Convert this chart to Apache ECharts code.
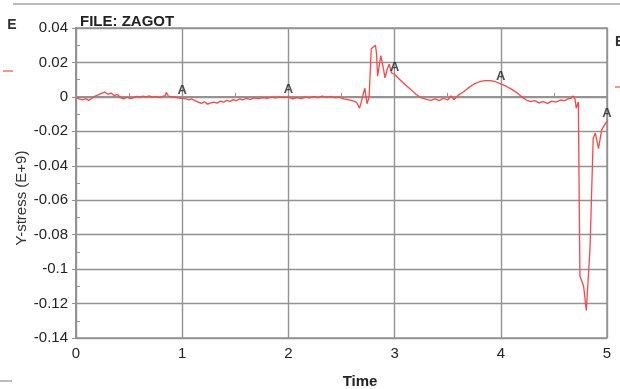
<!DOCTYPE html>
<html>
<head>
<meta charset="utf-8">
<script src="https://cdn.jsdelivr.net/npm/echarts@6/dist/echarts.min.js"></script>
<style>html,body{margin:0;padding:0;background:#fff}#c{width:620px;height:389px}</style>
</head>
<body>
<div id="c"></div>
<script>
const times = [0.00,0.03,0.06,0.09,0.12,0.15,0.18,0.21,0.24,0.27,0.30,0.33,0.36,0.39,0.42,0.45,0.48,0.51,0.54,0.57,0.60,0.63,0.66,0.69,0.72,0.75,0.78,0.81,0.84,0.85,0.87,0.90,0.93,0.96,0.99,1.00,
1.03,1.06,1.09,1.12,1.15,1.18,1.21,1.24,1.27,1.30,1.33,1.36,1.39,1.42,1.45,1.48,1.51,1.54,1.57,1.60,1.64,1.68,1.72,1.76,1.80,1.84,1.88,1.92,1.96,2.00,
2.04,2.08,2.12,2.16,2.20,2.24,2.28,2.32,2.36,2.40,2.44,2.48,2.52,2.56,2.60,2.64,2.67,2.69,2.71,2.72,2.74,2.76,2.78,2.80,2.82,2.83,2.84,2.86,2.87,2.89,2.91,2.93,2.95,2.97,3.00,
3.05,3.10,3.15,3.20,3.25,3.30,3.34,3.38,3.42,3.46,3.50,3.53,3.56,3.60,3.65,3.70,3.75,3.80,3.85,3.90,3.95,4.00,
4.05,4.10,4.15,4.20,4.24,4.28,4.32,4.36,4.40,4.44,4.48,4.52,4.56,4.60,4.64,4.66,4.68,4.70,4.71,4.73,4.735,4.745,4.78,4.805,4.84,4.87,4.89,4.92,4.95,4.98,5.00];
const stress = [-0.0005,-0.0012,-0.0018,-0.0010,-0.0020,-0.0008,0.0005,0.0012,0.0020,0.0028,0.0015,0.0022,0.0008,0.0014,-0.0004,-0.0012,-0.0002,-0.0010,-0.0005,0.0003,-0.0002,0.0004,0.0000,0.0006,-0.0001,0.0003,-0.0003,0.0002,0.0008,0.0026,0.0004,0.0002,-0.0002,-0.0006,-0.0008,-0.0005,
-0.0010,-0.0018,-0.0012,-0.0022,-0.0030,-0.0038,-0.0028,-0.0042,-0.0035,-0.0030,-0.0036,-0.0024,-0.0030,-0.0020,-0.0026,-0.0016,-0.0022,-0.0012,-0.0018,-0.0008,-0.0014,-0.0006,-0.0010,-0.0004,-0.0008,-0.0002,-0.0006,0.0000,-0.0004,0.0000,
-0.0012,-0.0004,-0.0010,-0.0002,-0.0006,0.0002,-0.0004,0.0004,-0.0002,0.0003,-0.0005,-0.0001,-0.0012,-0.0016,-0.0022,-0.0030,-0.0065,-0.0020,0.0030,0.0050,-0.0040,0.0000,0.0280,0.0290,0.0300,0.0250,0.0120,0.0200,0.0240,0.0180,0.0110,0.0160,0.0190,0.0140,0.0130,
0.0100,0.0070,0.0045,0.0015,-0.0005,-0.0015,-0.0020,-0.0012,-0.0022,-0.0008,-0.0018,0.0005,-0.0015,0.0010,0.0030,0.0055,0.0075,0.0088,0.0094,0.0095,0.0088,0.0075,
0.0062,0.0045,0.0025,0.0000,-0.0018,-0.0028,-0.0022,-0.0035,-0.0028,-0.0038,-0.0025,-0.0030,-0.0018,-0.0022,-0.0010,-0.0008,0.0005,-0.0015,-0.0065,-0.0030,-0.0020,-0.1040,-0.1100,-0.1240,-0.0880,-0.0240,-0.0210,-0.0300,-0.0190,-0.0160,-0.0140];
const markerTimes = [1, 2, 3, 4, 5];
const markerLabel = 'A';
const xTicks = [0, 1, 2, 3, 4, 5];
const yMin = -0.14, yMax = 0.04, yStep = 0.02;

const lineData = times.map((t, i) => [t, stress[i]]);
const markerData = markerTimes.map(t => {
  const i = times.indexOf(t);
  return [t, stress[i]];
});

const chart = echarts.init(document.getElementById('c'));
const grey = '#939393';
chart.setOption({
  animation: false,
  backgroundColor: '#fff',
  title: {
    text: 'FILE: ZAGOT', left: 75, top: 9,
    textStyle: { fontFamily: 'Liberation Sans', fontSize: 15, fontWeight: 'bold', color: '#222' }
  },
  grid: { left: 76, right: 13, top: 28, bottom: 51, show: true, borderColor: grey, borderWidth: 1.5 },
  xAxis: [{
    type: 'value', min: 0, max: 5, interval: 1,
    axisLine: { show: true, lineStyle: { color: grey, width: 2 } },
    axisTick: { show: true, length: 4, lineStyle: { color: grey } },
    axisLabel: { margin: 8, color: '#222', fontSize: 15, fontFamily: 'Liberation Sans',
      formatter: v => xTicks.includes(v) ? String(v) : '' },
    splitLine: { show: true, lineStyle: { color: grey, width: 1.4 } }
  }, {
    type: 'value', min: 0, max: 5, interval: 0.5, position: 'bottom',
    axisLine: { show: false }, axisLabel: { show: false }, splitLine: { show: false },
    axisTick: { show: true, inside: true, length: 4, lineStyle: { color: grey } }
  }],
  yAxis: [{
    type: 'value', min: yMin, max: yMax, interval: yStep,
    axisLine: { show: true, lineStyle: { color: grey, width: 2 } },
    axisTick: { show: true, length: 4, lineStyle: { color: grey } },
    axisLabel: { margin: 8, color: '#222', fontSize: 15, fontFamily: 'Liberation Sans',
      formatter: v => String(Math.round(v * 100) / 100) },
    splitLine: { show: true, lineStyle: { color: grey, width: 1.4 } }
  }, {
    type: 'value', min: yMin, max: yMax, interval: 0.01, position: 'left',
    axisLine: { show: false }, axisLabel: { show: false }, splitLine: { show: false },
    axisTick: { show: true, inside: true, length: 4, lineStyle: { color: grey } }
  }],
  series: [{
    type: 'line', data: lineData, showSymbol: false, symbol: 'none',
    lineStyle: { color: '#ff4545', width: 1.3 }, z: 3
  }, {
    type: 'scatter', data: markerData, symbolSize: 0,
    label: { show: true, position: 'top', distance: 1, formatter: markerLabel,
      color: '#222', fontSize: 13, fontWeight: 'bold', fontFamily: 'Liberation Sans' }, z: 4
  }],
  graphic: [
    { type: 'line', shape: { x1: 13, y1: 4, x2: 620, y2: 4 }, style: { stroke: '#bbb', lineWidth: 2 } },
    { type: 'text', x: 12, y: 25, style: { text: 'E', font: 'bold 14px "Liberation Sans"', fill: '#333', align: 'center', verticalAlign: 'middle' } },
    { type: 'line', shape: { x1: 3, y1: 71, x2: 13, y2: 71 }, style: { stroke: '#ff6b6b', lineWidth: 1.5 } },
    { type: 'text', x: 615, y: 42, style: { text: 'E', font: 'bold 14px "Liberation Sans"', fill: '#333', align: 'left', verticalAlign: 'middle' } },
    { type: 'line', shape: { x1: 615, y1: 87, x2: 622, y2: 87 }, style: { stroke: '#ff6b6b', lineWidth: 1.5 } },
    { type: 'line', shape: { x1: 0, y1: 381, x2: 12, y2: 381 }, style: { stroke: '#bbb', lineWidth: 2 } },
    { type: 'text', x: 22, y: 198, rotation: Math.PI / 2,
      style: { text: 'Y-stress (E+9)', font: '15px "Liberation Sans"', fill: '#333', align: 'center', verticalAlign: 'middle' } },
    { type: 'text', x: 360, y: 382,
      style: { text: 'Time', font: 'bold 15px "Liberation Sans"', fill: '#222', align: 'center', verticalAlign: 'middle' } }
  ]
});
</script>
</body>
</html>
